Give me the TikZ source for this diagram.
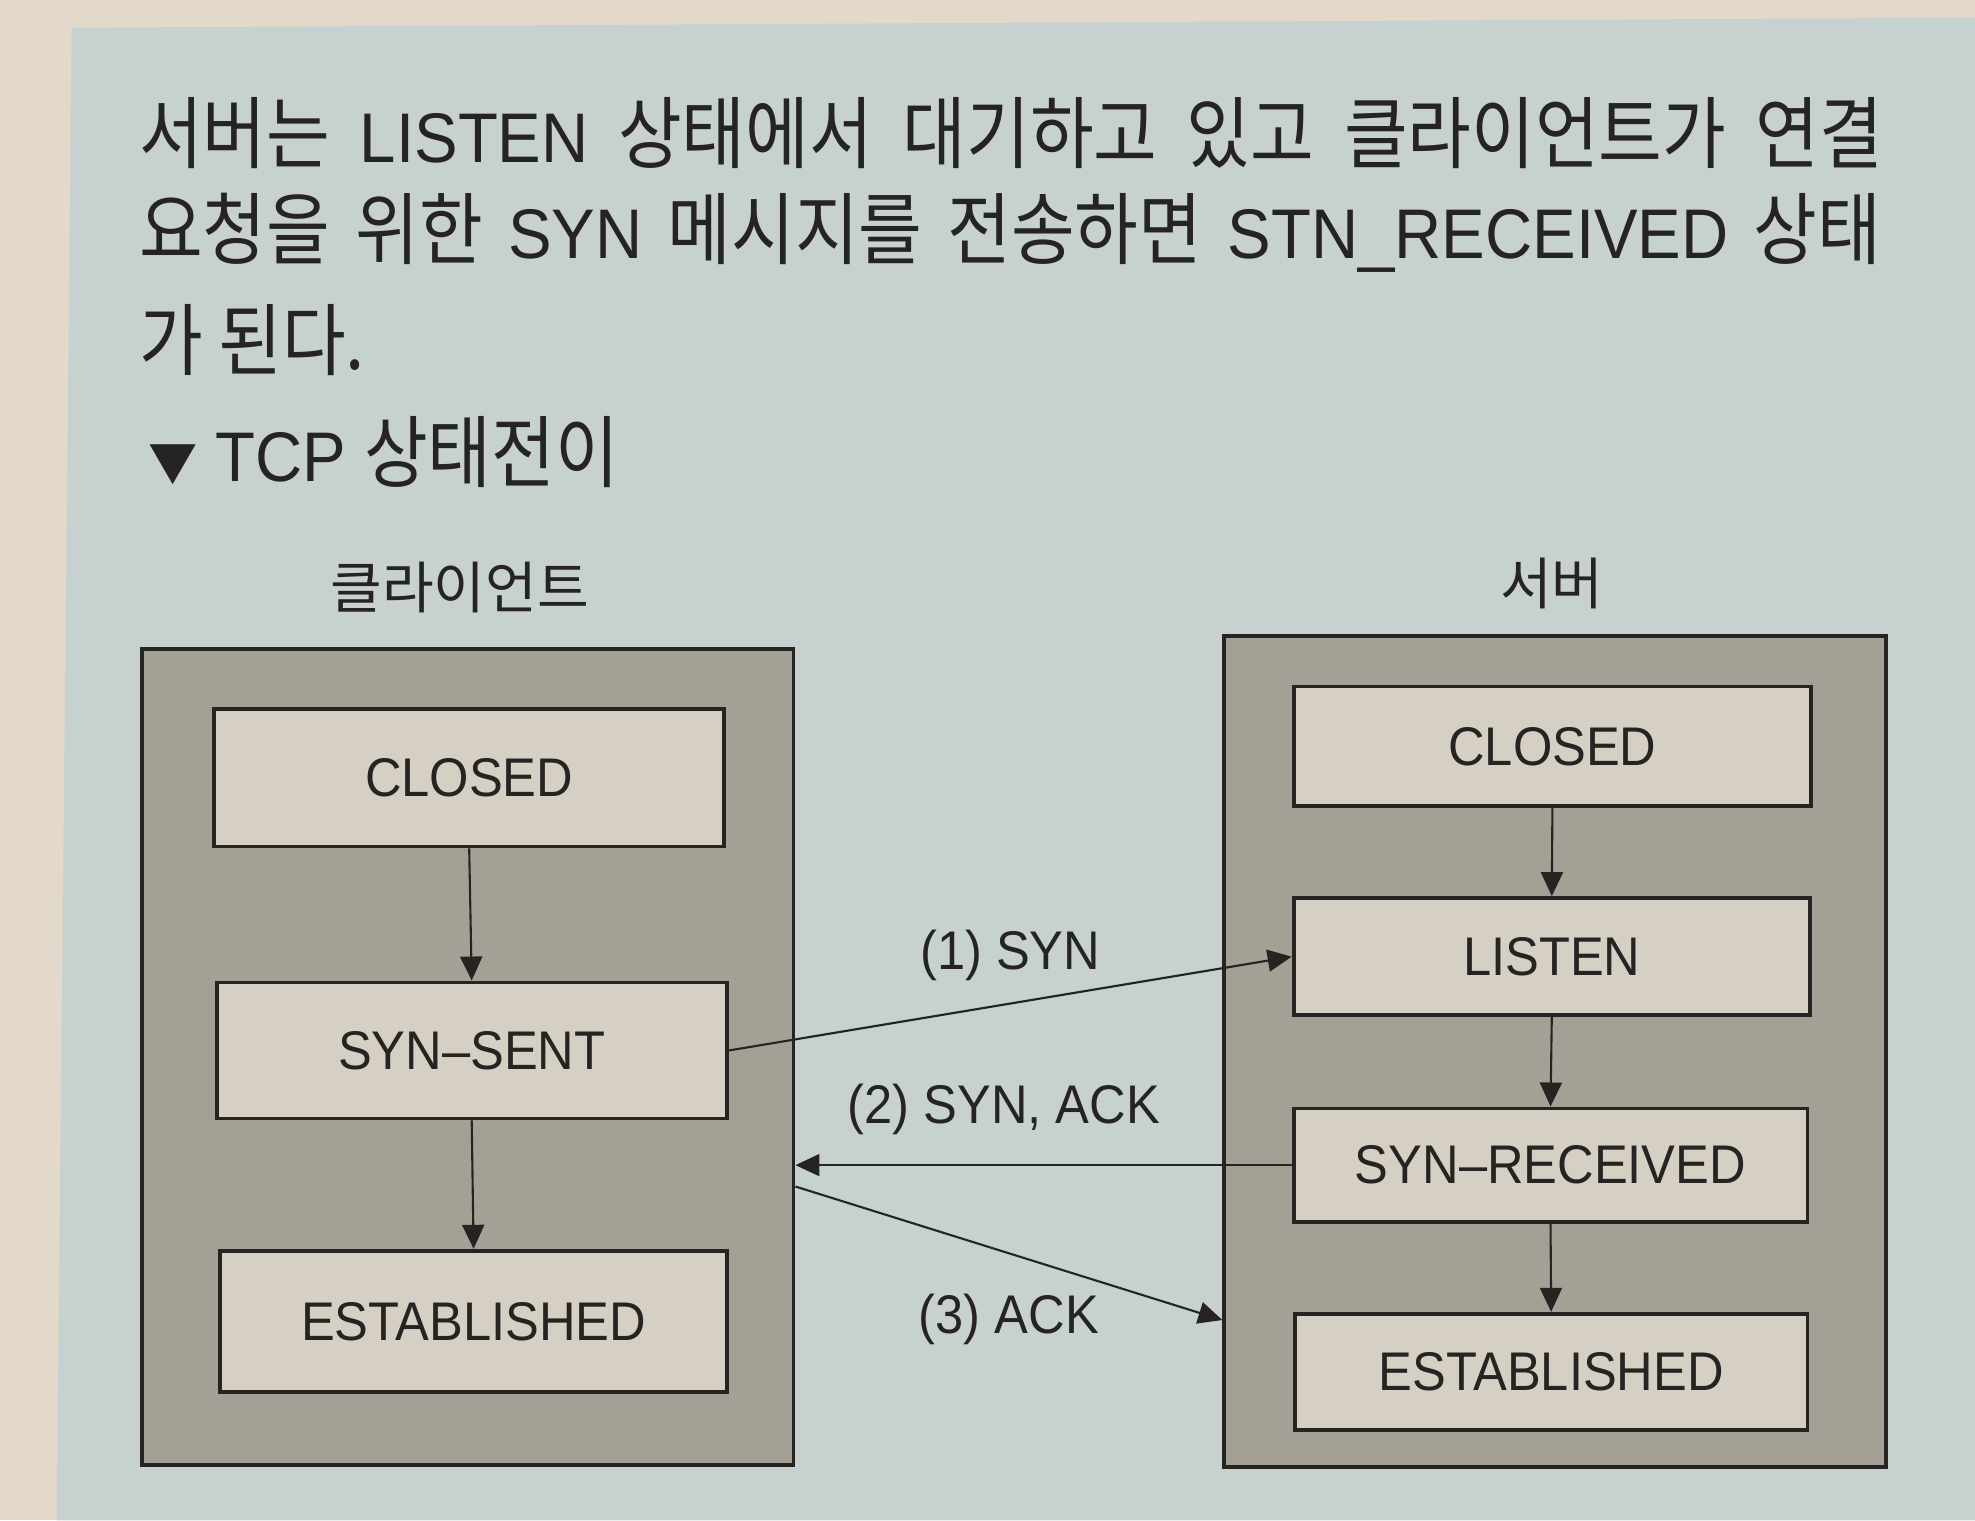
\documentclass[tikz,border=0pt]{standalone}
\usepackage{fontspec}
\setmainfont[FakeStretch=0.93]{Liberation Sans}
\newfontfamily\krfont[FakeStretch=0.88, Scale=1.12]{Noto Sans CJK KR}
\newfontfamily\krplain{Noto Sans CJK KR}
\usetikzlibrary{arrows.meta, positioning, calc}
\definecolor{paperbg}{RGB}{226,217,203}
\definecolor{panelbg}{RGB}{199,209,208}
\definecolor{hostfill}{RGB}{165,160,150}
\definecolor{statefill}{RGB}{214,207,195}
\definecolor{inkcol}{RGB}{38,36,34}
\newcommand{\boxw}[1]{#1*0.0126cm}
\newcommand{\hangul}[1]{{\krfont #1}}
\tikzset{
  host/.style={draw=inkcol, line width=1.1pt, fill=hostfill, inner sep=0pt},
  state/.style={draw=inkcol, line width=1.1pt, fill=statefill, inner sep=0pt,
                font=\fontsize{15.5}{18}\selectfont, text=inkcol},
  flow/.style={-{Triangle[length=2.4mm,width=2.2mm]}, inkcol, line width=0.6pt},
  msg/.style={font=\fontsize{15.5}{18}\selectfont, text=inkcol},
  body/.style={font=\fontsize{20}{24}\selectfont, text=inkcol, inner sep=0pt},
  krlabel/.style={font=\krplain\fontsize{16}{18}\selectfont, text=inkcol, inner sep=0pt},
}

\begin{document}
\begin{tikzpicture}[x=0.0126cm,y=-0.0126cm]

% ── Page and panel ───────────────────────────────────────────────────────────
\fill[paperbg] (0,0) rectangle (1568,1207);
\fill[panelbg] (57,22) -- (1568,14) -- (1568,1207) -- (45,1207) -- cycle;
\useasboundingbox (0,0) rectangle (1568,1207);

% ── Paragraph and caption ────────────────────────────────────────────────────
\node[body, anchor=base west] (line1) at (110,129)
     {\makebox[17.45cm][s]{\hangul{서버는} LISTEN \hangul{상태에서} \hangul{대기하고}
      \hangul{있고} \hangul{클라이언트가} \hangul{연결}}};
\node[body, anchor=base west] (line2) at (110,205)
     {\makebox[17.43cm][s]{\hangul{요청을} \hangul{위한} SYN \hangul{메시지를}
      \hangul{전송하면} STN\_RECEIVED \hangul{상태}}};
\node[body, anchor=base west] (line3) at (110,293) {\hangul{가 된다.}};
\node[body, anchor=base west] (caption) at (117,382)
     {{\krplain\fontsize{14}{14}\selectfont ▼} TCP \hangul{상태전이}};

% ── Client side ──────────────────────────────────────────────────────────────
\node[krlabel, anchor=base] (clientlbl) at (365,483) {클라이언트};
\node[host, minimum width=\boxw{517}, minimum height=\boxw{648}] (cbox) at (371.5,839) {};
\node[state, minimum width=\boxw{405}, minimum height=\boxw{109}] (cclosed) at (372.5,617.5) {CLOSED};
\node[state, minimum width=\boxw{405}, minimum height=\boxw{108}] (csent) at (374.5,834) {SYN--SENT};
\node[state, minimum width=\boxw{402}, minimum height=\boxw{112}] (cest) at (376,1049) {ESTABLISHED};

% ── Server side ──────────────────────────────────────────────────────────────
\node[krlabel, anchor=base] (serverlbl) at (1232,480) {서버};
\node[host, minimum width=\boxw{525}, minimum height=\boxw{660}] (sbox) at (1234.5,835) {};
\node[state, minimum width=\boxw{411}, minimum height=\boxw{95}] (sclosed) at (1232.5,592.5) {CLOSED};
\node[state, minimum width=\boxw{410}, minimum height=\boxw{93}] (slisten) at (1232,759.5) {LISTEN};
\node[state, minimum width=\boxw{408}, minimum height=\boxw{90}] (srcvd) at (1231,925) {SYN--RECEIVED};
\node[state, minimum width=\boxw{407}, minimum height=\boxw{92}] (sest) at (1231.5,1089) {ESTABLISHED};

% state transitions
\foreach \a/\b in {cclosed/csent, csent/cest, sclosed/slisten,
                   slisten/srcvd, srcvd/sest} {
  \draw[flow] (\a.south) -- (\b.north);
}

% ── Handshake messages ───────────────────────────────────────────────────────
\coordinate (ackfrom) at ($(cbox.east)+(0,103)$);
\coordinate (ackto) at ($(sbox.west)+(0,213)$);
\draw[flow] (csent.east) -- (slisten.west)
      node[msg, midway, above=3pt] {(1) SYN};
\draw[flow] (srcvd.west) -- (srcvd.west -| cbox.east)
      node[msg, pos=0.58, above=5pt] {(2) SYN, ACK};
\draw[flow] (ackfrom) -- (ackto)
      node[msg, midway, below=8pt] {(3) ACK};

\end{tikzpicture}
\end{document}
